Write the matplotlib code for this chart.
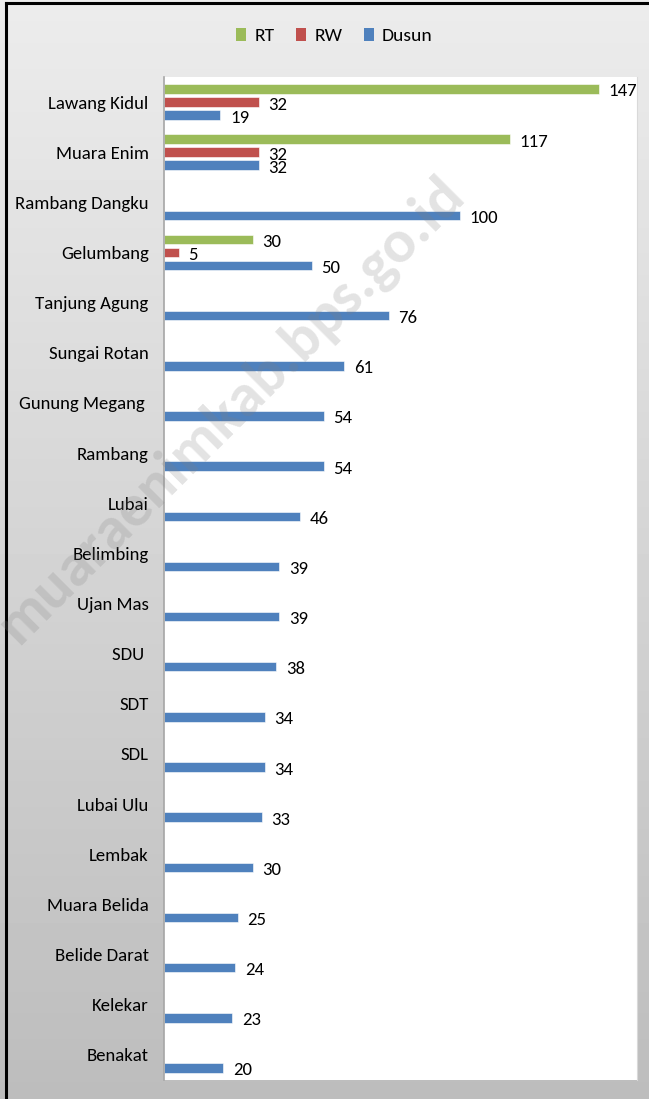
import numpy as np
import matplotlib
matplotlib.use('Agg')
import matplotlib.pyplot as plt
from matplotlib.patches import Patch

categories = ['Lawang Kidul', 'Muara Enim', 'Rambang Dangku', 'Gelumbang',
              'Tanjung Agung', 'Sungai Rotan', 'Gunung Megang ', 'Rambang',
              'Lubai', 'Belimbing', 'Ujan Mas', 'SDU ', 'SDT', 'SDL',
              'Lubai Ulu', 'Lembak', 'Muara Belida', 'Belide Darat',
              'Kelekar', 'Benakat']
rt = [147, 117, None, 30] + [None] * 16
rw = [32, 32, None, 5] + [None] * 16
dusun = [19, 32, 100, 50, 76, 61, 54, 54, 46, 39, 39, 38, 34, 34, 33, 30,
         25, 24, 23, 20]

series = [('RT', rt, '#9bbb59'), ('RW', rw, '#c0504d'), ('Dusun', dusun, '#4f81bd')]
offsets = [-0.26, 0.0, 0.26]

plt.rcParams['font.family'] = ['Carlito', 'DejaVu Sans']

fig = plt.figure(figsize=(6.49, 10.99), dpi=100)

# gradient background
bg = fig.add_axes([0, 0, 1, 1], zorder=0)
grad = np.linspace(0.925, 0.74, 256).reshape(-1, 1)
bg.imshow(grad, cmap='gray', vmin=0, vmax=1, aspect='auto', extent=[0, 1, 0, 1])
bg.plot([0.0085, 0.0085], [0, 0.997], color='black', lw=2.2)
bg.plot([0.0085, 1], [0.997, 0.997], color='black', lw=2.2)
bg.set_xlim(0, 1)
bg.set_ylim(0, 1)
bg.axis('off')

ax = fig.add_axes([0.2527, 0.0173, 0.7288, 0.9127], zorder=1)
ax.set_facecolor('white')
y = np.arange(len(categories))
for (name, vals, col), off in zip(series, offsets):
    for i, v in enumerate(vals):
        if v is None:
            continue
        ax.barh(y[i] + off, v, height=0.19, color=col, edgecolor='white', linewidth=0.4)
        ax.text(v + 3.3, y[i] + off + 0.05, str(v), va='center', ha='left', fontsize=13.5)

ax.set_xlim(0, 160)
ax.set_ylim(len(categories) - 0.5, -0.5)
ax.set_yticks(y)
ax.set_yticklabels(categories, fontsize=13.5)
ax.tick_params(axis='y', length=0, pad=11)
ax.set_xticks([])
for s in ['top', 'bottom']:
    ax.spines[s].set_visible(False)
ax.spines['right'].set_color('#d9d9d9')
ax.spines['left'].set_color('#a6a6a6')
ax.spines['left'].set_linewidth(1.2)

handles = [Patch(facecolor=c, label=n) for n, v, c in series]
fig.legend(handles=handles, loc='center', bbox_to_anchor=(0.515, 0.967), ncol=3,
           frameon=False, fontsize=14, handlelength=0.55, handleheight=0.6,
           handletextpad=0.4, columnspacing=1.1)

fig.text(0.355, 0.627, 'muaraenimkab.bps.go.id', rotation=45, ha='center', va='center',
         fontsize=44, fontweight='bold', color='#808080', alpha=0.22, zorder=5)

fig.savefig('out.png', dpi=100)
